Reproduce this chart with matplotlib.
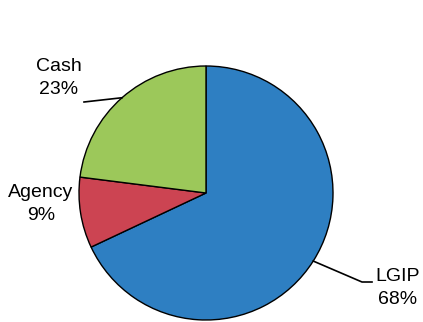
import numpy as np
import matplotlib.pyplot as plt

plt.rcParams['font.family'] = ['Liberation Sans', 'DejaVu Sans']

labels = ["LGIP", "Agency", "Cash"]
shares = [68, 9, 23]
colors = ["#2e7fc2", "#cc4452", "#9cc85a"]

fontsize = 14
ls = 1.4

fig = plt.figure(figsize=(4.23, 3.22), dpi=100)
ax = fig.add_axes([0, 0, 1, 1])

# pie drawn in a pixel-like coordinate frame
cx, cy, r = 206, 129, 127
wedges, _ = ax.pie(shares, colors=colors, startangle=90, counterclock=False,
                   center=(cx, cy), radius=r,
                   wedgeprops=dict(edgecolor="black", linewidth=1))
ax.set_xlim(0, 423)
ax.set_ylim(0, 322)
ax.set_aspect("equal")
ax.axis("off")

def edge_point(w):
    t = np.deg2rad((w.theta1 + w.theta2) / 2)
    return cx + r * np.cos(t), cy + r * np.sin(t)

def label(i):
    return "%s\n%d%%" % (labels[i], shares[i])

# LGIP
ex, ey = edge_point(wedges[0])
ax.plot([ex, 362, 372], [ey, 40, 40], color="black", lw=1.2)
ax.text(398, 34, label(0), ha="center", va="center", fontsize=fontsize, linespacing=ls)

# Agency
ax.text(41, 118, label(1), ha="center", va="center", fontsize=fontsize, linespacing=ls)

# Cash
ex, ey = edge_point(wedges[2])
ax.plot([84, ex], [220, ey], color="black", lw=1.2)
ax.text(59, 244, label(2), ha="center", va="center", fontsize=fontsize, linespacing=ls)

fig.savefig("out.png", dpi=100)
